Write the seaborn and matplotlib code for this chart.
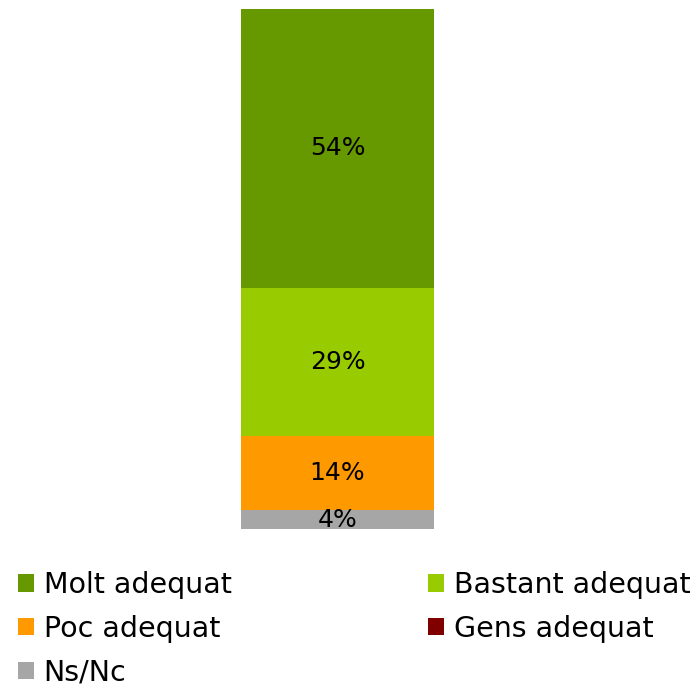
import numpy as np
import pandas as pd
import matplotlib.pyplot as plt
import seaborn as sns
from matplotlib.patches import Patch

sns.set_theme(style="white")
plt.rcParams['font.family'] = ['DejaVu Sans']

# Dades (percentatge de respostes)
categories = ['Molt adequat', 'Bastant adequat', 'Poc adequat', 'Gens adequat', 'Ns/Nc']
values = [53.57, 28.57, 14.29, 0.0, 3.57]
colors = ['#669900', '#99CC00', '#FF9900', '#800000', '#A6A6A6']

fig = plt.figure(figsize=(6.92, 6.87), dpi=100)
fig.patch.set_facecolor('white')
ax = fig.add_axes([241 / 692, (687 - 529) / 687, 193 / 692, 520 / 687])

# Barra apilada: de baix (Ns/Nc) a dalt (Molt adequat)
order = list(range(len(categories)))[::-1]
cum = np.cumsum([values[i] for i in order])
bottoms = np.concatenate([[0], cum[:-1]])

# dibuixar primer els acumulats més alts
for k in range(len(order) - 1, -1, -1):
    i = order[k]
    df = pd.DataFrame({'g': [''], 'v': [cum[k]]})
    sns.barplot(data=df, x='g', y='v', color=colors[i], width=1.0,
                saturation=1, ax=ax, edgecolor='none')

for k, i in enumerate(order):
    if values[i] <= 0:
        continue
    ax.text(0, bottoms[k] + values[i] / 2, f'{values[i]:.0f}%',
            ha='center', va='center', fontsize=18, color='black')

ax.set_xlim(-0.5, 0.5)
ax.set_ylim(0, cum[-1])
ax.axis('off')

# Llegenda (ordre per columnes perquè es llegeixi per files)
leg_order = [0, 2, 4, 1, 3]
handles = [Patch(facecolor=colors[i], edgecolor='none') for i in leg_order]
labels = [categories[i] for i in leg_order]
leg = fig.legend(handles, labels, ncol=2, loc='upper left',
                 bbox_to_anchor=(18 / 692, (687 - 571) / 687),
                 frameon=False, fontsize=20.5, handlelength=0.55, handleheight=0.55,
                 handletextpad=0.35, columnspacing=6.9, labelspacing=0.55,
                 borderaxespad=0, borderpad=0)
for t in leg.get_texts():
    t.set_color('black')

fig.savefig('out.png', dpi=100, facecolor='white')
